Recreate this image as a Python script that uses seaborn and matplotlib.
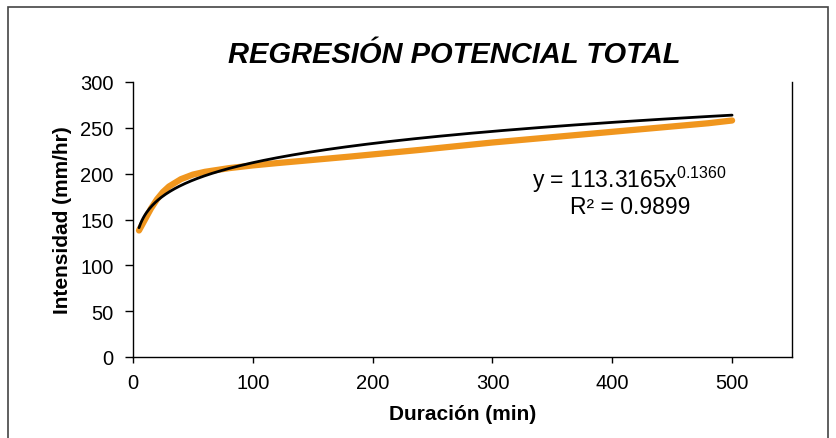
import numpy as np
import pandas as pd
import matplotlib
matplotlib.use("Agg")
import matplotlib.pyplot as plt
import seaborn as sns
from matplotlib.patches import Rectangle

# Datos (duracion en min, intensidad en mm/hr)
duracion = [5, 10, 15, 20, 25, 30, 40, 50, 60, 80, 100, 120, 180, 240, 300, 360, 420, 480, 500]
intensidad = [138, 150, 162, 172, 180, 186, 194, 199, 202, 206, 209, 211.5, 218.5, 226, 234, 241, 248, 255, 258]

# Coeficientes de la regresion potencial mostrados en el grafico
coef_a = 113.3165
coef_b = 0.1360
r2 = 0.9899

x_ticks = [0, 100, 200, 300, 400, 500]
y_ticks = [0, 50, 100, 150, 200, 250, 300]

sns.set_style("white")
plt.rcParams["font.family"] = ["Liberation Sans", "DejaVu Sans"]
plt.rcParams["mathtext.default"] = "regular"
plt.rcParams["text.color"] = "black"
plt.rcParams["axes.labelcolor"] = "black"
plt.rcParams["xtick.color"] = "black"
plt.rcParams["ytick.color"] = "black"

df = pd.DataFrame({"duracion": duracion, "intensidad": intensidad})
x_fit = np.linspace(min(duracion), max(duracion), 400)
df_fit = pd.DataFrame({"duracion": x_fit, "intensidad": coef_a * x_fit ** coef_b})

fig = plt.figure(figsize=(8.36, 4.39), dpi=100)
ax = fig.add_axes([133 / 836, 1 - 358 / 439, (792 - 133) / 836, (358 - 83) / 439])

sns.lineplot(data=df, x="duracion", y="intensidad", ax=ax, color="#F0961E",
             linewidth=4.5, solid_capstyle="round", solid_joinstyle="round")
sns.lineplot(data=df_fit, x="duracion", y="intensidad", ax=ax, color="black",
             linewidth=2.0)

ax.set_xlim(0, 550)
ax.set_ylim(0, 300)
ax.set_xticks(x_ticks)
ax.set_yticks(y_ticks)
ax.tick_params(axis="both", direction="out", width=1, color="black",
               labelcolor="black", labelsize=14.5, left=True, bottom=True)
ax.tick_params(axis="y", length=6, pad=8)
ax.tick_params(axis="x", length=4.5, pad=7)

for side in ["left", "bottom", "right"]:
    ax.spines[side].set_color("black")
    ax.spines[side].set_linewidth(1)
ax.spines["top"].set_visible(False)

ax.set_xlabel("Duración (min)", fontsize=15, fontweight="bold", labelpad=9)
ax.set_ylabel("Intensidad (mm/hr)", fontsize=15, fontweight="bold", labelpad=6)

fig.text(454 / 836, 1 - 55 / 439, "REGRESIÓN POTENCIAL TOTAL", ha="center", va="center",
         fontsize=21, fontweight="bold", fontstyle="italic")

ax.text(0.754, 0.647, "y = %.4fx$^{%.4f}$" % (coef_a, coef_b), transform=ax.transAxes,
        ha="center", va="center", fontsize=16.5)
ax.text(0.754, 0.549, "R² = %.4f" % r2, transform=ax.transAxes,
        ha="center", va="center", fontsize=16.5)

# Borde del area del grafico
fig.patches.append(Rectangle((8 / 836, -0.2), 820 / 836, 1.2 - 8 / 439,
                             transform=fig.transFigure, fill=False,
                             edgecolor="#444444", linewidth=1.2))

fig.savefig("out.png", dpi=100)
